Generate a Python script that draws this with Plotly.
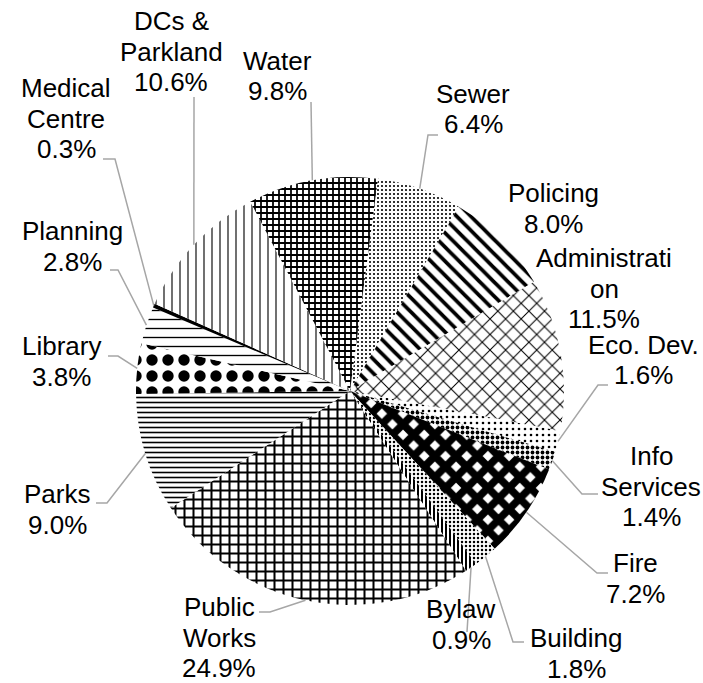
import math
import plotly.graph_objects as go

# ---------------- data ----------------
categories = ["Sewer", "Policing", "Administration", "Eco. Dev.", "Info Services",
              "Fire", "Building", "Bylaw", "Public Works", "Parks", "Library",
              "Planning", "Medical Centre", "DCs & Parkland", "Water"]
shares = [6.4, 8.0, 11.5, 1.6, 1.4, 7.2, 1.8, 0.9, 24.9, 9.0, 3.8, 2.8, 0.3, 10.6, 9.8]

# how the category names wrap in the labels
wrapped_names = {
    "Administration": ["Administrati", "on"],
    "Info Services": ["Info", "Services"],
    "Public Works": ["Public", "Works"],
    "Medical Centre": ["Medical", "Centre"],
    "DCs & Parkland": ["DCs &", "Parkland"],
}

# ---------------- layout / styling ----------------
W, H = 703, 683
CX, CY, R = 350, 391, 214
ROTATION = 7.5
FONT = "Liberation Sans, Arial, sans-serif"
FS = 26
LINE_STEP = 30.5
LEADER = "#A6A6A6"

# pattern per slice (shape, size, solidity)
patterns = {
    "Sewer": (".", 4, 0.22),
    "Policing": ("\\", 10, 0.38),
    "Administration": ("x", 11, 0.18),
    "Eco. Dev.": (".", 6, 0.15),
    "Info Services": (".", 5, 0.45),
    "Fire": ("x", 15, 0.76),
    "Building": (".", 4, 0.3),
    "Bylaw": ("|", 4, 0.5),
    "Public Works": ("+", 9, 0.4),
    "Parks": ("-", 5, 0.32),
    "Library": (".", 16, 0.4),
    "Planning": ("-", 9, 0.15),
    "Medical Centre": ("", 8, 0.3),
    "DCs & Parkland": ("|", 8, 0.14),
    "Water": ("+", 6, 0.5),
}
solid_black = {"Medical Centre"}

# label placement: centre x and first baseline (pixels)
label_pos = {
    "DCs & Parkland": (171, 30),
    "Water": (277, 70),
    "Sewer": (473, 103),
    "Policing": (553, 202),
    "Administration": (604, 267),
    "Eco. Dev.": (643, 354),
    "Info Services": (651, 465),
    "Fire": (635, 572),
    "Building": (576, 647),
    "Bylaw": (461, 618),
    "Public Works": (219, 616),
    "Parks": (57, 503),
    "Library": (61, 355),
    "Planning": (72, 240),
    "Medical Centre": (66, 97),
}
# leader line points next to label (pixels); the end on the pie is computed
leader_pts = {
    "Medical Centre": [(103, 159), (115, 159)],
    "DCs & Parkland": [(194, 97)],
    "Water": [(311, 102)],
    "Sewer": [(438, 135), (428, 135)],
    "Eco. Dev.": [(608, 385), (598, 385)],
    "Info Services": [(598, 494), (582, 494)],
    "Fire": [(608, 573), (597, 573)],
    "Building": [(524, 642), (513, 642)],
    "Bylaw": [(467, 632)],
    "Public Works": [(259, 612), (270, 612)],
    "Parks": [(96, 503), (107, 503)],
    "Library": [(108, 356), (118, 356)],
    "Planning": [(110, 270), (118, 270)],
}


def px(x):
    return x / W


def py(y):
    return 1 - y / H


colors = ["black" if c in solid_black else "white" for c in categories]

fig = go.Figure()
fig.add_trace(go.Pie(
    values=shares,
    labels=categories,
    sort=False,
    direction="clockwise",
    rotation=ROTATION,
    textinfo="none",
    hoverinfo="label+percent",
    showlegend=False,
    domain=dict(x=[px(CX - R), px(CX + R)], y=[py(CY + R), py(CY - R)]),
    marker=dict(
        colors=colors,
        line=dict(width=0),
        pattern=dict(
            shape=[patterns[c][0] for c in categories],
            size=[patterns[c][1] for c in categories],
            solidity=[patterns[c][2] for c in categories],
            fgcolor="black",
            bgcolor=colors,
            fillmode="replace",
        ),
    ),
))

# slice mid-angles from the data
total = sum(shares)
mid_pt = {}
cum = 0.0
for c, v in zip(categories, shares):
    ang = math.radians(ROTATION + (cum + v / 2) / total * 360)
    mid_pt[c] = (CX + R * math.sin(ang), CY - R * math.cos(ang))
    cum += v

shapes = []
for c, pts in leader_pts.items():
    allp = pts + [mid_pt[c]]
    path = "M " + " L ".join(f"{px(x):.5f},{py(y):.5f}" for x, y in allp)
    shapes.append(dict(type="path", path=path, xref="paper", yref="paper",
                       line=dict(color=LEADER, width=1.5)))

annotations = []
for c, v in zip(categories, shares):
    lines = wrapped_names.get(c, [c]) + [f"{v:.1f}%"]
    x0, b0 = label_pos[c]
    for i, t in enumerate(lines):
        yc = b0 + i * LINE_STEP - 9
        annotations.append(dict(
            text=t, x=px(x0), y=py(yc), xref="paper", yref="paper",
            xanchor="center", yanchor="middle", showarrow=False,
            font=dict(family=FONT, size=FS, color="black"),
        ))

fig.update_layout(
    width=W, height=H,
    margin=dict(l=0, r=0, t=0, b=0),
    paper_bgcolor="white",
    plot_bgcolor="white",
    shapes=shapes,
    annotations=annotations,
)

fig.write_html(
    "out.html",
    config={"displayModeBar": False},
    post_script="document.body.style.margin='0';document.body.style.overflow='hidden';",
)
